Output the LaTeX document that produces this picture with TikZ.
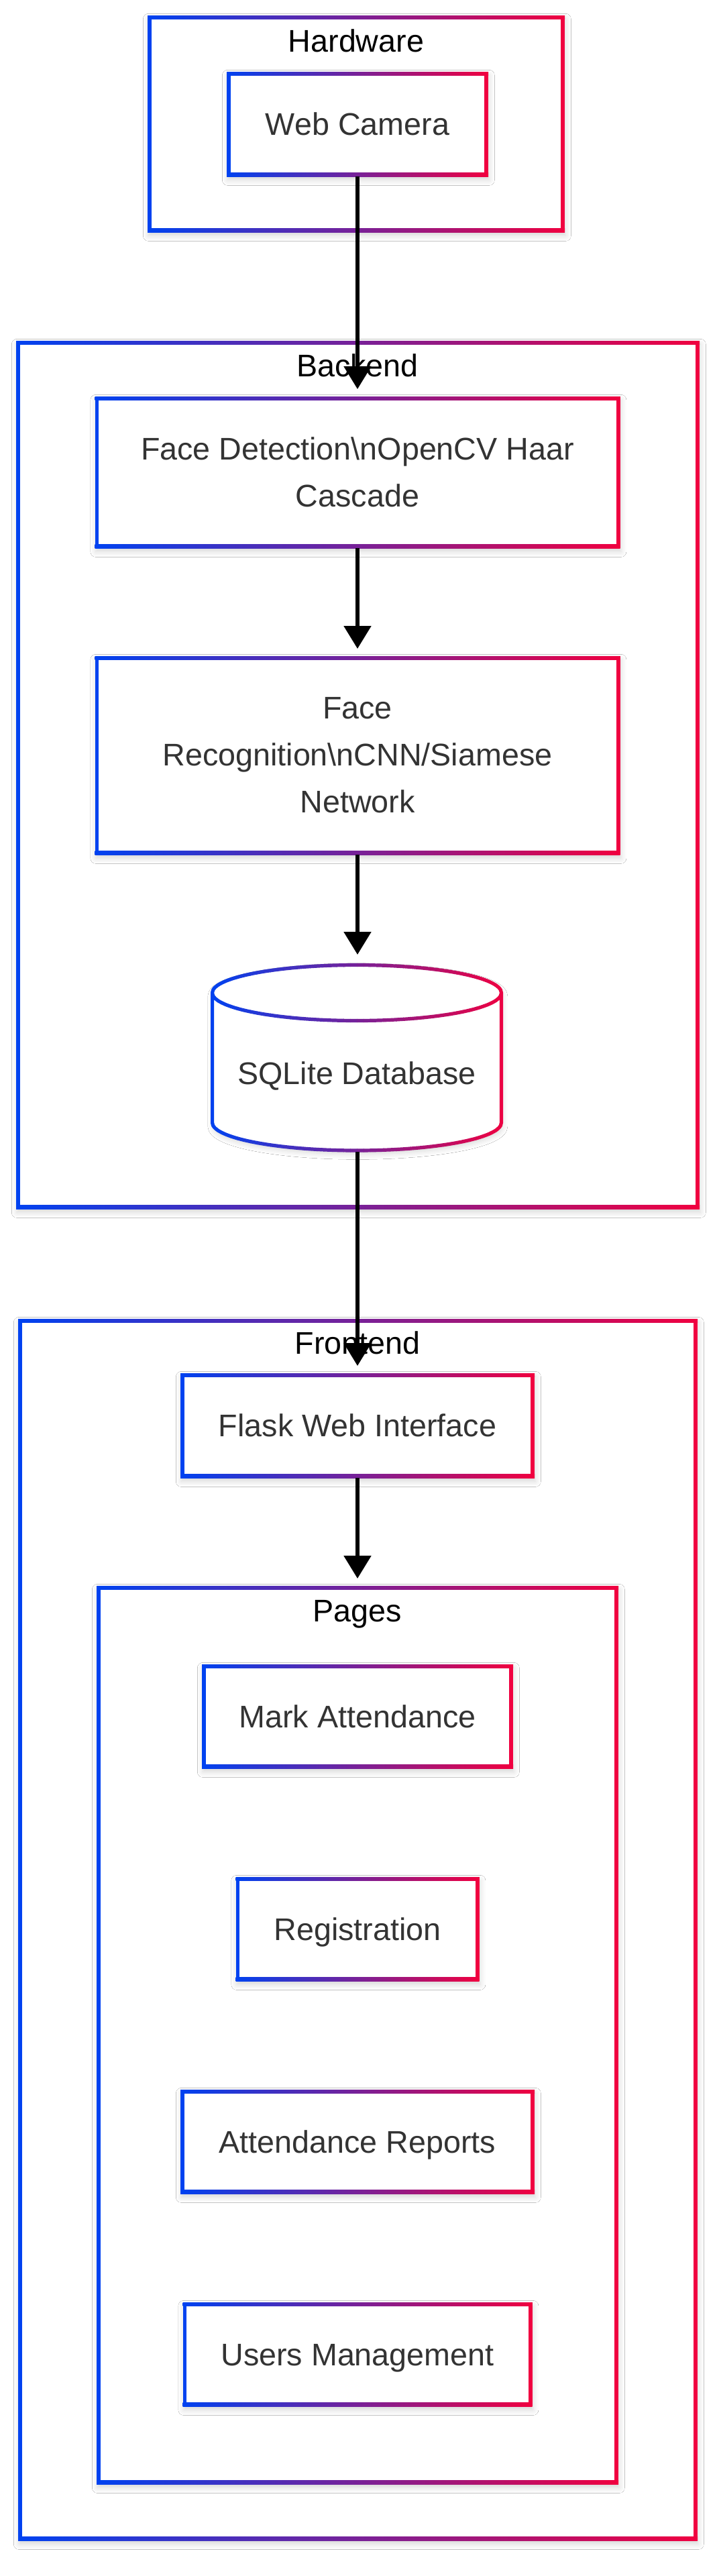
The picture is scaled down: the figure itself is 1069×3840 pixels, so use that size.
\documentclass[tikz,border=0pt]{standalone}
\usepackage{fontspec}
\setmainfont{Liberation Sans}
\usetikzlibrary{arrows.meta,shadows.blur}
\definecolor{cL}{RGB}{0,66,240}
\definecolor{cR}{RGB}{240,0,64}
\definecolor{txtc}{RGB}{51,51,51}
\newcommand\bw{5.8}
\newcommand\gbars[1]{%
  \shade[left color=cL,right color=cR] (#1.north west) rectangle ([shift={(0,\bw)}]#1.north east);
  \shade[left color=cL,right color=cR] ([shift={(0,-\bw)}]#1.south west) rectangle (#1.south east);
  \fill[cL] (#1.north west) rectangle ([shift={(\bw,0)}]#1.south west);
  \fill[cR] ([shift={(-\bw,0)}]#1.north east) rectangle (#1.south east);
}
\begin{document}
\begin{tikzpicture}[x=0.75pt,y=-0.75pt,
  shd/.style={blur shadow={shadow xshift=1pt, shadow yshift=-4pt, shadow blur radius=6pt, shadow opacity=16}},
  box/.style={rectangle, inner sep=0pt, outer sep=0pt, fill=white, shd},
  lbl/.style={font=\fontsize{35pt}{52.5pt}\selectfont, text=txtc, align=center},
  one/.style={text height=25pt, text depth=0pt},
  ttl/.style={font=\fontsize{35pt}{52.5pt}\selectfont, text=black, anchor=base, inner sep=0pt},
  arr/.style={line width=4.1pt, black, -{Triangle[length=25.5pt,width=30pt]}}
]
\useasboundingbox (0,0) rectangle (1069,3840);
\fill[white] (0,0) rectangle (1069,3840);

% clusters
\node[box, minimum width=622*0.75pt, minimum height=323*0.75pt] (hw) at (531,184.5) {};
\gbars{hw}
\node[ttl] (hwt) at (531,77) {Hardware};

\node[box, minimum width=1019*0.75pt, minimum height=1294*0.75pt] (be) at (533.5,1155) {};
\gbars{be}
\node[ttl] (bet) at (533,561) {Backend};

\node[box, minimum width=1013*0.75pt, minimum height=1821*0.75pt] (fe) at (533.5,2876.5) {};
\gbars{fe}
\node[ttl] (fet) at (533,2018) {Frontend};

\node[box, minimum width=778*0.75pt, minimum height=1339*0.75pt] (pages) at (533,3033.5) {};
\gbars{pages}
\node[ttl] (pgt) at (533,2417) {Pages};

% nodes
\node[box, lbl, one, minimum width=390*0.75pt, minimum height=156*0.75pt] (cam) at (533,185) {Web Camera};
\gbars{cam}
\node[box, lbl, minimum width=783*0.75pt, minimum height=226*0.75pt] (fd) at (533,704) {Face Detection\textbackslash{}nOpenCV Haar\\Cascade};
\gbars{fd}
\node[box, lbl, minimum width=783*0.75pt, minimum height=296*0.75pt] (fr) at (533,1126) {Face\\Recognition\textbackslash{}nCNN/Siamese\\Network};
\gbars{fr}

% database cylinder
\node[inner sep=0pt, outer sep=0pt, minimum width=436*0.75pt, minimum height=281*0.75pt] (db) at (533,1576.5) {};
\fill[white, shd]
  (316.5,1480) -- (316.5,1673.5) arc[start angle=180, end angle=0, x radius=215.5, y radius=41.5]
  -- (747.5,1480) arc[start angle=0, end angle=-180, x radius=215.5, y radius=41.5] -- cycle;
\foreach \i in {0,...,43}{
  \pgfmathsetmacro\xa{314+\i*9.91}
  \pgfmathsetmacro\xb{\xa+10.5}
  \pgfmathtruncatemacro\pcol{(\i+0.5)*100/44}
  \begin{scope}
    \clip (\xa,1425) rectangle (\xb,1730);
    \draw[line width=3.9pt, draw=cR!\pcol!cL]
      (532,1480) ellipse [x radius=215.5, y radius=41.5]
      (316.5,1480) -- (316.5,1673.5) arc[start angle=180, end angle=0, x radius=215.5, y radius=41.5] -- (747.5,1480);
  \end{scope}
}
\node[lbl, one, inner sep=0pt] (dbtext) at (532,1600) {SQLite Database};

\node[box, lbl, one, minimum width=528*0.75pt, minimum height=156*0.75pt] (flask) at (533,2125) {Flask Web Interface};
\gbars{flask}

\node[box, lbl, one, minimum width=464*0.75pt, minimum height=155*0.75pt] (mark) at (533,2558.5) {Mark Attendance};
\gbars{mark}
\node[box, lbl, one, minimum width=363*0.75pt, minimum height=155*0.75pt] (reg) at (533,2875.5) {Registration};
\gbars{reg}
\node[box, lbl, one, minimum width=528*0.75pt, minimum height=155*0.75pt] (rep) at (533,3192.5) {Attendance Reports};
\gbars{rep}
\node[box, lbl, one, minimum width=521*0.75pt, minimum height=155*0.75pt] (usr) at (533,3509.5) {Users Management};
\gbars{usr}

% connectors
\draw[arr, shorten >=8.25pt] (cam) -- (fd);
\draw[arr, shorten >=8.25pt] (fd) -- (fr);
\draw[arr, shorten >=9.75pt] (fr) -- (db);
\draw[arr, shorten >=8.25pt] (db) -- (flask);
\draw[arr, shorten >=8.25pt] (flask) -- (pages);
\end{tikzpicture}
\end{document}
